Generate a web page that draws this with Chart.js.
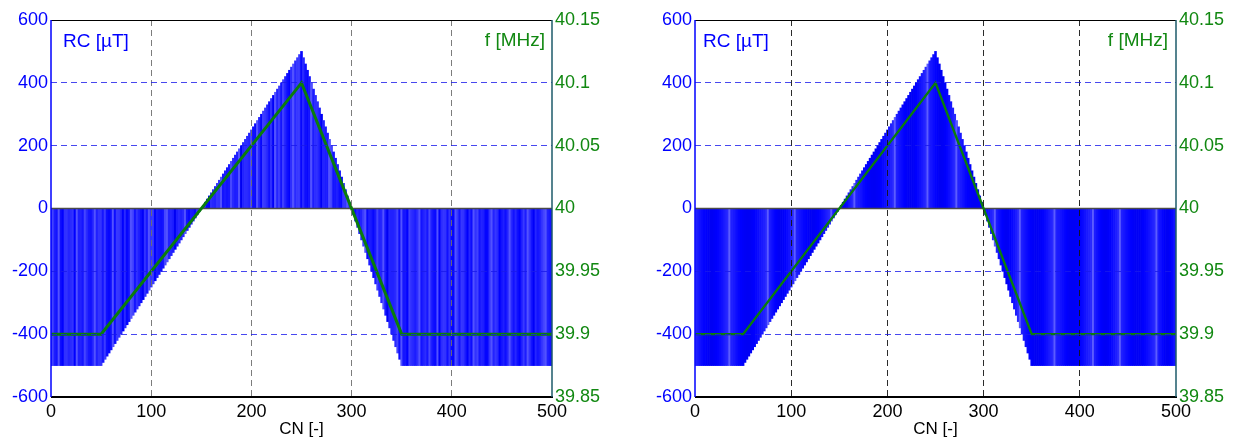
<!DOCTYPE html>
<html lang="en">
<head>
<meta charset="UTF-8">
<title>RC and f vs CN</title>
<script src="https://cdn.jsdelivr.net/npm/chart.js"></script>
<style>
    body {
        margin: 0;
        background: #ffffff;
        width: 1237px;
        height: 440px;
        overflow: hidden;
        position: relative;
    }
    canvas { position: absolute; top: 0; }
    #left { left: 0; }
    #right { left: 625px; }
</style>
</head>
<body>

<canvas id="left" width="625" height="440"></canvas>
<canvas id="right" width="612" height="440"></canvas>

<script>
    // RC bars, one bar every 2 CN (CN = 0, 2, 4 ... 500)
    const CN_STEP = 2;
    const rcValues = [
        -500,-500,-500,-500,-500,-500,-500,-500,-500,-500,
        -500,-500,-500,-500,-500,-500,-500,-500,-500,-500,
        -500,-500,-500,-500,-500,-500,
        -490,-480,-470,-460,-450,-440,-430,-420,-410,-400,
        -390,-380,-370,-360,-350,-340,-330,-320,-310,-300,
        -290,-280,-270,-260,-250,-240,-230,-220,-210,-200,
        -190,-180,-170,-160,-150,-140,-130,-120,-110,-100,
        -90,-80,-70,-60,-50,-40,-30,-20,-10,0,
        10,20,30,40,50,60,70,80,90,100,
        110,120,130,140,150,160,170,180,190,200,
        210,220,230,240,250,260,270,280,290,300,
        310,320,330,340,350,360,370,380,390,400,
        410,420,430,440,450,460,470,480,490,500,
        480,460,440,420,400,380,360,340,320,300,
        280,260,240,220,200,180,160,140,120,100,
        80,60,40,20,0,-20,-40,-60,-80,-100,
        -120,-140,-160,-180,-200,-220,-240,-260,-280,-300,
        -320,-340,-360,-380,-400,-420,-440,-460,-480,-500,
        -500,-500,-500,-500,-500,-500,-500,-500,-500,-500,
        -500,-500,-500,-500,-500,-500,-500,-500,-500,-500,
        -500,-500,-500,-500,-500,-500,-500,-500,-500,-500,
        -500,-500,-500,-500,-500,-500,-500,-500,-500,-500,
        -500,-500,-500,-500,-500,-500,-500,-500,-500,-500,
        -500,-500,-500,-500,-500,-500,-500,-500,-500,-500,
        -500,-500,-500,-500,-500,-500,-500,-500,-500,-500,
        -500,-500,-500,-500,-500
    ];

    // frequency line
    const cnLine = [0, 50, 250, 350, 500];
    const fLine = [39.9, 39.9, 40.1, 39.9, 39.9];

    // ticks
    const cnTicks = [0, 100, 200, 300, 400, 500];
    const rcTicks = [-600, -400, -200, 0, 200, 400, 600];
    const fTicks = [39.85, 39.9, 39.95, 40, 40.05, 40.1, 40.15];
    const fTickLabels = ['39.85', '39.9', '39.95', '40', '40.05', '40.1', '40.15'];

    const FONT = "'Liberation Sans', Arial, Helvetica, sans-serif";

    // blue shades: l < 0 darker, l > 0 towards white
    function blue(l) {
        if (l < 0) return 'rgb(0,0,' + Math.round(255 * (1 + l)) + ')';
        const c = Math.round(255 * l);
        return 'rgb(' + c + ',' + c + ',255)';
    }

    // fine stripes (left panel)
    function fineStripes(n) {
        const out = [];
        for (let i = 0; i < n; i++) {
            const s = Math.sin(i * 1.9) + Math.sin(i * 0.77 + 1) + 0.6 * Math.sin(i * 3.1);
            let l = 0.12 + 0.07 * s;
            if (i % 9 === 4) l = 0.32;
            out.push(blue(l));
        }
        return out;
    }

    // wide shaded bands (right panel)
    function wideBands(n) {
        const out = [];
        const widths = [18, 20, 14, 19, 12, 21, 17, 15, 20, 13];
        let i = 0, k = 0;
        while (i < n) {
            const w = widths[k % widths.length];
            for (let j = 0; j < w && i < n; j++, i++) {
                const t = Math.abs(2 * j / (w - 1) - 1);
                let l = -0.04 + 0.2 * Math.pow(t, 1.6);
                if (j === 0) l = 0.36;
                out.push(blue(l));
            }
            k++;
        }
        return out;
    }

    const framePlugin = {
        id: 'frame',
        beforeDatasetDraw(chart, args) {
            if (args.index !== 1) return;
            const { ctx, chartArea: a, scales } = chart;
            const y0 = scales.y.getPixelForValue(0);
            ctx.save();
            ctx.strokeStyle = '#4a4a4a';
            ctx.lineWidth = 1.5;
            ctx.beginPath();
            ctx.moveTo(a.left, y0);
            ctx.lineTo(a.right, y0);
            ctx.stroke();
            ctx.restore();
        },
        afterDraw(chart, args, opts) {
            const { ctx, chartArea: a } = chart;
            ctx.save();
            ctx.lineWidth = 1;
            ctx.strokeStyle = '#000';
            ctx.beginPath();
            ctx.moveTo(a.left, a.top + 0.5);
            ctx.lineTo(a.right, a.top + 0.5);
            ctx.stroke();
            ctx.lineWidth = 2;
            ctx.beginPath();
            ctx.moveTo(a.left, a.bottom);
            ctx.lineTo(a.right + 1, a.bottom);
            ctx.stroke();
            ctx.lineWidth = 1.5;
            ctx.strokeStyle = '#0000ff';
            ctx.beginPath();
            ctx.moveTo(a.left, a.top);
            ctx.lineTo(a.left, a.bottom);
            ctx.stroke();
            ctx.strokeStyle = '#1d5a6a';
            ctx.beginPath();
            ctx.moveTo(a.right, a.top);
            ctx.lineTo(a.right, a.bottom);
            ctx.stroke();

            ctx.font = '19px ' + FONT;
            ctx.textBaseline = 'alphabetic';
            ctx.fillStyle = '#0000ff';
            ctx.textAlign = 'left';
            ctx.fillText('RC [\u00b5T]', a.left + opts.padL, a.top + 27);
            ctx.fillStyle = '#118811';
            ctx.textAlign = 'right';
            ctx.fillText('f [MHz]', a.right - opts.padR, a.top + 26);
            ctx.restore();
        }
    };

    function makeChart(id, cfg) {
        const ctx = document.getElementById(id).getContext('2d');
        return new Chart(ctx, {
            type: 'bar',
            data: {
                datasets: [
                    {
                        type: 'bar',
                        data: rcValues.map((v, i) => ({ x: i * CN_STEP, y: v })),
                        backgroundColor: cfg.colors,
                        borderWidth: 0,
                        barPercentage: 1,
                        categoryPercentage: 1,
                        yAxisID: 'y',
                        order: 2
                    },
                    {
                        type: 'line',
                        data: cnLine.map((x, i) => ({ x: x, y: fLine[i] })),
                        borderColor: '#0b7d0b',
                        borderWidth: cfg.lineWidth,
                        pointRadius: 0,
                        tension: 0,
                        yAxisID: 'y1',
                        order: 1
                    }
                ]
            },
            options: {
                responsive: false,
                animation: false,
                layout: { padding: { top: 20, left: 0, right: 0, bottom: 0 } },
                plugins: {
                    legend: { display: false },
                    tooltip: { enabled: false },
                    frame: { padL: cfg.padL, padR: cfg.padR }
                },
                scales: {
                    x: {
                        type: 'linear',
                        min: 0,
                        max: 500,
                        offset: false,
                        afterBuildTicks: s => { s.ticks = cnTicks.map(v => ({ value: v })); },
                        afterFit: s => { s.height = 43; },
                        grid: {
                            offset: false,
                            drawTicks: false,
                            z: 1,
                            lineWidth: 1,
                            color: c => (c.tick && c.tick.value > 0 && c.tick.value < 500) ? cfg.vGrid : 'rgba(0,0,0,0)'
                        },
                        border: { display: false, dash: [6, 4] },
                        ticks: {
                            color: '#000',
                            font: { family: FONT, size: 18 },
                            padding: 4,
                            maxRotation: 0,
                            autoSkip: false,
                            callback: v => String(v)
                        },
                        title: {
                            display: true,
                            text: 'CN [-]',
                            color: '#000',
                            font: { family: FONT, size: 17 },
                            padding: { top: 0, bottom: 0 }
                        }
                    },
                    y: {
                        position: 'left',
                        min: -600,
                        max: 600,
                        afterBuildTicks: s => { s.ticks = rcTicks.map(v => ({ value: v })); },
                        afterFit: s => { s.width = cfg.leftW; },
                        grid: {
                            drawTicks: false,
                            z: 1,
                            lineWidth: 1,
                            color: c => (c.tick && Math.abs(c.tick.value) < 600 && c.tick.value !== 0) ? 'rgba(25,25,235,0.8)' : 'rgba(0,0,0,0)'
                        },
                        border: { display: false, dash: [6, 4] },
                        ticks: {
                            color: '#0000ff',
                            font: { family: FONT, size: 18 },
                            padding: 3,
                            callback: v => String(v)
                        }
                    },
                    y1: {
                        position: 'right',
                        min: 39.85,
                        max: 40.15,
                        afterBuildTicks: s => { s.ticks = fTicks.map(v => ({ value: v })); },
                        afterFit: s => { s.width = cfg.rightW; },
                        grid: { display: false, drawTicks: false },
                        border: { display: false },
                        ticks: {
                            color: '#118811',
                            font: { family: FONT, size: 18 },
                            padding: 3,
                            callback: (v, i) => fTickLabels[i]
                        }
                    }
                }
            },
            plugins: [framePlugin]
        });
    }

    makeChart('left', {
        colors: fineStripes(rcValues.length),
        vGrid: 'rgba(110,110,110,0.9)',
        lineWidth: 3,
        leftW: 51,
        rightW: 73,
        padL: 12,
        padR: 7
    });

    makeChart('right', {
        colors: wideBands(rcValues.length),
        vGrid: 'rgba(20,20,20,0.9)',
        lineWidth: 2.4,
        leftW: 70,
        rightW: 61,
        padL: 8,
        padR: 8
    });
</script>

</body>
</html>
